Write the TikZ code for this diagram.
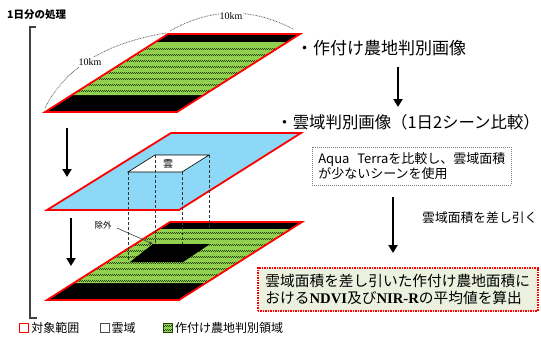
\documentclass[tikz,border=0pt]{standalone}
\usepackage{fontspec}
\newfontfamily\jp{Noto Sans CJK JP}
\newfontfamily\lserif{Liberation Serif}
\usetikzlibrary{arrows.meta}
\definecolor{skyb}{RGB}{140,216,246}
\definecolor{fieldg}{RGB}{146,208,80}
\definecolor{stripeg}{RGB}{40,70,10}
\definecolor{resbg}{RGB}{235,241,222}
\begin{document}
\begin{tikzpicture}[x=1pt,y=-1pt, font=\jp,
  planeborder/.style={draw=red, line width=1.8pt, line join=miter},
  bigarrow/.style={line width=2.2pt, -{Triangle[width=9pt,length=8pt]}},
  kmarc/.style={draw=black!60, line width=0.8pt, dash pattern=on 0.8pt off 0.8pt},
  kmlabel/.style={font=\lserif\fontsize{10}{12}\selectfont, fill=white, inner sep=1pt},
  stripeA/.style={draw=stripeg, line width=1pt, dash pattern=on 1pt off 1pt},
  stripeB/.style={draw=stripeg, line width=1pt, dash pattern=on 1pt off 1pt, dash phase=1pt},
  vdash/.style={draw=black!80, line width=0.6pt, dash pattern=on 3pt off 2pt},
  title/.style={inner sep=0pt, font=\jp\fontsize{17}{20}\selectfont},
  legtext/.style={anchor=west, inner sep=2pt, font=\jp\fontsize{12}{13}\selectfont},
]
\useasboundingbox (0,0) rectangle (541,341);

% ---------- top plane ----------
\coordinate (p1bl) at (45,112);
\coordinate (p1br) at (177,112);
\coordinate (p1tr) at (300,34);
\coordinate (p1tl) at (168,34);
\fill[black] (p1bl)--(p1br)--(p1tr)--(p1tl)--cycle;
\begin{scope}
\clip (71.8,95)--(203.8,95)--(287.4,42)--(155.4,42)--cycle;
\fill[fieldg] (40,30) rectangle (310,115);
\foreach \y in {48,54,...,92} {
  \draw[stripeA] (40,\y)--(310,\y);
  \draw[stripeB] (40,\y+1)--(310,\y+1);
}
\end{scope}
\draw[planeborder] (p1bl)--(p1br)--(p1tr)--(p1tl)--cycle;

% 10km arcs
\draw[kmarc] (45,108) .. controls (65,68) and (105,43) .. (166,33);
\node[kmlabel] (km1) at (90,62) {10km};
\draw[kmarc] (170,31) .. controls (210,8) and (251,7) .. (293,29);
\node[kmlabel] (km2) at (231,16) {10km};

% ---------- middle plane ----------
\coordinate (p2bl) at (47,210);
\coordinate (p2br) at (179,210);
\coordinate (p2tr) at (301,133);
\coordinate (p2tl) at (171,133);
\fill[skyb] (p2bl)--(p2br)--(p2tr)--(p2tl)--cycle;
\draw[planeborder] (p2bl)--(p2br)--(p2tr)--(p2tl)--cycle;
\coordinate (c1) at (128,172);
\coordinate (c2) at (155,155);
\coordinate (c3) at (182,172);
\coordinate (c4) at (209,155);
\filldraw[fill=white, draw=black, line width=0.6pt] (c1)--(c3)--(c4)--(c2)--cycle;
\node[font=\jp\fontsize{10}{12}\selectfont, inner sep=0pt] (kumo) at (168,163.5) {雲};

% ---------- bottom plane ----------
\coordinate (p3bl) at (47,300);
\coordinate (p3br) at (179,300);
\coordinate (p3tr) at (302,222);
\coordinate (p3tl) at (170,222);
\fill[black] (p3bl)--(p3br)--(p3tr)--(p3tl)--cycle;
\begin{scope}
\clip (73.8,283)--(205.8,283)--(291,229)--(159,229)--cycle;
\fill[fieldg] (40,220) rectangle (310,305);
\foreach \y in {232,238,...,280} {
  \draw[stripeA] (40,\y)--(310,\y);
  \draw[stripeB] (40,\y+1)--(310,\y+1);
}
\end{scope}
\coordinate (h1) at (130,262);
\coordinate (h3) at (183,262);
\coordinate (h4) at (210,244);
\coordinate (h2) at (153,244);
\fill[black] (h1)--(h3)--(h4)--(h2)--cycle;
\draw[planeborder] (p3bl)--(p3br)--(p3tr)--(p3tl)--cycle;

% vertical dashed projection lines
\coordinate (e1) at (128,260);
\coordinate (e2) at (155,244);
\coordinate (e3) at (182,244);
\coordinate (e4) at (209,230);
\draw[vdash] (c1)--(e1);
\draw[vdash] (c2)--(e2);
\draw[vdash] (c3)--(e3);
\draw[vdash] (c4)--(e4);

% 除外
\node[font=\jp\fontsize{8.5}{10}\selectfont, inner sep=1pt] (jogai) at (103,225) {除外};
\coordinate (jg) at (117,228);
\draw[black!75, line width=0.6pt, -{Stealth[length=4pt,width=3pt]}] (jg) -- (h2);

% left arrows
\coordinate (la1s) at (67,128);
\coordinate (la1e) at (67,177);
\coordinate (la2s) at (71,218);
\coordinate (la2e) at (71,266);
\draw[bigarrow] (la1s)--(la1e);
\draw[bigarrow] (la2s)--(la2e);

% bracket
\draw[line width=1.4pt, black!75] (36,27)--(30,27)--(30,318)--(37,318);
\node[anchor=west, inner sep=0pt, font=\jp\bfseries\fontsize{10.5}{12}\selectfont] (day) at (7,15) {1日分の処理};

% ---------- right side ----------
\node[title, anchor=west] (t1) at (296,48) {・作付け農地判別画像};
\node[title, anchor=east, font=\jp\fontsize{16.4}{20}\selectfont] (t2) at (540,122) {・雲域判別画像（1日2シーン比較）};
\coordinate (ra1s) at (398,67);
\coordinate (ra1e) at (398,107);
\draw[bigarrow] (ra1s)--(ra1e);

\node[draw=gray, line width=0.6pt, dash pattern=on 1pt off 1pt, anchor=north west,
      minimum width=198pt, minimum height=38pt, inner xsep=6pt, align=left,
      font=\jp\fontsize{13}{15}\selectfont] (info) at (312,147)
  {Aqua\hspace{0.6em}Terraを比較し、雲域面積\\が少ないシーンを使用};

\coordinate (ra2s) at (393,197);
\coordinate (ra2e) at (393,253);
\draw[bigarrow] (ra2s)--(ra2e);
\node[anchor=west, inner sep=0pt, font=\jp\fontsize{12.8}{14}\selectfont] (sub) at (422,218) {雲域面積を差し引く};

\node[draw=red, line width=1.5pt, dash pattern=on 1.5pt off 1pt, fill=resbg, anchor=north west,
      minimum width=280pt, minimum height=43pt, align=left,
      font=\jp\fontsize{14.7}{17}\selectfont] (res) at (257,267)
  {雲域面積を差し引いた作付け農地面積に\\おける{\lserif\bfseries NDVI}及び{\lserif\bfseries NIR-R}の平均値を算出};

% ---------- legend ----------
\node[draw=red, line width=1.5pt, minimum size=9pt, inner sep=0pt] (lg1) at (24,328) {};
\node[legtext] (lt1) at (lg1.east) {対象範囲};
\node[draw=black!70, line width=0.8pt, minimum size=9pt, inner sep=0pt] (lg2) at (104.5,328) {};
\node[legtext] (lt2) at (lg2.east) {雲域};
\node[draw=stripeg, fill=fieldg, line width=0.8pt, minimum size=9pt, inner sep=0pt] (lg3) at (168,328) {};
\draw[stripeA] ([xshift=1pt,yshift=-2.5pt]lg3.west) -- ([xshift=-1pt,yshift=-2.5pt]lg3.east);
\draw[stripeB] ([xshift=1pt,yshift=-1.5pt]lg3.west) -- ([xshift=-1pt,yshift=-1.5pt]lg3.east);
\draw[stripeA] ([xshift=1pt,yshift=1.5pt]lg3.west) -- ([xshift=-1pt,yshift=1.5pt]lg3.east);
\draw[stripeB] ([xshift=1pt,yshift=2.5pt]lg3.west) -- ([xshift=-1pt,yshift=2.5pt]lg3.east);
\node[legtext] (lt3) at (lg3.east) {作付け農地判別領域};
\end{tikzpicture}
\end{document}
